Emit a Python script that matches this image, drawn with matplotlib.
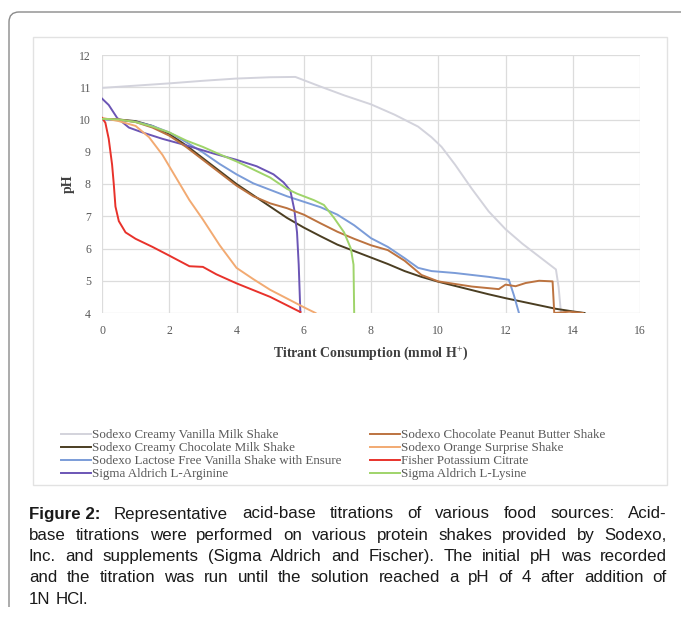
import matplotlib
matplotlib.use("Agg")
import matplotlib.pyplot as plt
from matplotlib.path import Path
from matplotlib.patches import PathPatch, Rectangle

# ---------------- data ----------------
names = ["Sodexo Creamy Vanilla Milk Shake",
         "Sodexo Creamy Chocolate Milk Shake",
         "Sodexo Lactose Free Vanilla Shake with Ensure",
         "Sigma Aldrich L-Arginine",
         "Sodexo Chocolate Peanut Butter Shake",
         "Sodexo Orange Surprise Shake",
         "Fisher Potassium Citrate",
         "Sigma Aldrich L-Lysine"]
colors = ["#d3d3dc", "#4b3e22", "#7b9cd8", "#6b55b5",
          "#bc7340", "#f2aa72", "#e8322b", "#9fd46a"]

vanilla_x = [0, 1, 2, 3, 4, 5, 5.75, 6.5, 7.2, 8.0, 8.7, 9.4, 9.8, 10.1, 10.5,
             11.0, 11.5, 12.0, 12.5, 13.0, 13.5, 13.58, 13.65]
vanilla_y = [10.98, 11.05, 11.12, 11.2, 11.27, 11.31, 11.32, 11.02, 10.75, 10.47,
             10.15, 9.78, 9.45, 9.15, 8.6, 7.85, 7.15, 6.6, 6.15, 5.75, 5.35, 4.8, 4.0]

choc_x = [0, 0.5, 1, 1.5, 2, 2.5, 3, 3.5, 4, 4.5, 5, 5.5, 6, 6.5, 7, 7.5, 8, 8.5,
          9, 9.5, 10, 10.5, 11, 11.5, 12, 12.5, 13, 13.5, 14, 14.35]
choc_y = [10.02, 10.0, 9.95, 9.8, 9.55, 9.2, 8.8, 8.4, 8.0, 7.65, 7.3, 6.95, 6.65,
          6.38, 6.12, 5.92, 5.72, 5.52, 5.3, 5.12, 4.97, 4.84, 4.71, 4.58, 4.46,
          4.35, 4.24, 4.13, 4.05, 4.0]

lact_x = [0, 0.5, 1, 1.5, 2, 2.5, 3, 3.5, 4, 4.5, 5, 5.5, 6, 6.5, 7, 7.5, 8, 8.5,
          9, 9.4, 9.8, 10.5, 11.5, 12.1, 12.25, 12.4]
lact_y = [10.0, 9.98, 9.93, 9.8, 9.6, 9.3, 8.98, 8.62, 8.3, 8.02, 7.82, 7.62, 7.45,
          7.28, 7.05, 6.72, 6.32, 6.05, 5.7, 5.4, 5.3, 5.24, 5.12, 5.03, 4.55, 4.0]

arg_x = [0, 0.2, 0.45, 0.8, 1.2, 1.8, 2.5, 3.3, 4.0, 4.6, 5.1, 5.4, 5.6, 5.72,
         5.8, 5.85, 5.88, 5.9]
arg_y = [10.65, 10.45, 10.05, 9.75, 9.6, 9.4, 9.2, 8.95, 8.75, 8.55, 8.3, 8.05,
         7.8, 7.2, 6.5, 5.5, 4.6, 4.0]

pb_x = [0, 0.5, 1, 1.5, 2, 2.5, 3, 3.5, 4, 4.5, 5, 5.5, 6, 6.5, 7, 7.5, 8, 8.5,
        9, 9.5, 10, 10.5, 11, 11.5, 11.8, 12.0, 12.3, 12.6, 13.0, 13.4, 13.45,
        13.9, 14.3]
pb_y = [10.02, 10.0, 9.92, 9.75, 9.5, 9.15, 8.75, 8.35, 7.95, 7.62, 7.4, 7.25,
        7.05, 6.78, 6.52, 6.3, 6.1, 5.95, 5.62, 5.18, 4.98, 4.9, 4.82, 4.77, 4.74,
        4.88, 4.83, 4.93, 5.0, 4.98, 4.0, 4.04, 4.0]

orange_x = [0, 0.5, 1.0, 1.4, 1.8, 2.2, 2.6, 3.0, 3.5, 4.0, 4.5, 5.0, 5.5, 6.0, 6.35]
orange_y = [10.05, 9.95, 9.8, 9.45, 8.9, 8.2, 7.5, 6.9, 6.1, 5.4, 5.05, 4.72,
            4.45, 4.18, 4.0]

fisher_x = [0, 0.1, 0.2, 0.3, 0.35, 0.4, 0.5, 0.7, 1.0, 1.5, 2.0, 2.6, 3.0, 3.4,
            4.0, 5.0, 5.9]
fisher_y = [10.05, 9.9, 9.4, 8.6, 8.0, 7.3, 6.85, 6.5, 6.3, 6.05, 5.78, 5.45,
            5.43, 5.2, 4.92, 4.5, 4.03]

lys_x = [0, 0.5, 1.0, 1.5, 2.0, 2.5, 3.0, 3.5, 4.0, 4.5, 5.0, 5.5, 5.8, 6.3, 6.6,
         6.9, 7.2, 7.4, 7.48, 7.5]
lys_y = [10.02, 10.0, 9.92, 9.78, 9.6, 9.35, 9.15, 8.92, 8.7, 8.45, 8.2, 7.85,
         7.7, 7.5, 7.35, 6.95, 6.5, 6.0, 5.5, 4.0]

series_x = [vanilla_x, choc_x, lact_x, arg_x, pb_x, orange_x, fisher_x, lys_x]
series_y = [vanilla_y, choc_y, lact_y, arg_y, pb_y, orange_y, fisher_y, lys_y]

x_ticks = [0, 2, 4, 6, 8, 10, 12, 14, 16]
y_ticks = [4, 5, 6, 7, 8, 9, 10, 11, 12]

caption_lines = [
    "Figure 2: Representative acid-base titrations of various food sources: Acid-",
    "base titrations were performed on various protein shakes provided by Sodexo,",
    "Inc. and supplements (Sigma Aldrich and Fischer). The initial pH was recorded",
    "and the titration was run until the solution reached a pH of 4 after addition of",
    "1N HCl.",
]

plt.rcParams["mathtext.fontset"] = "custom"
plt.rcParams["mathtext.rm"] = "Liberation Serif"
plt.rcParams["mathtext.bf"] = "Liberation Serif:bold"

# ---------------- figure ----------------
W, H = 681, 619
fig = plt.figure(figsize=(W / 100, H / 100), dpi=100)

ov = fig.add_axes([0, 0, 1, 1], zorder=-5)
ov.set_xlim(0, W)
ov.set_ylim(H, 0)
ov.axis("off")

r = 10
verts = [(9, 607), (9, 12 + r), (9, 12), (9 + r, 12), (700, 12)]
codes = [Path.MOVETO, Path.LINETO, Path.CURVE3, Path.CURVE3, Path.LINETO]
ov.add_patch(PathPatch(Path(verts, codes), fill=False, edgecolor="#8a8a8a", lw=1.0))
ov.add_patch(Rectangle((33, 37), 634, 448, fill=False, edgecolor="#e2e2e2", lw=1.0))

ax = fig.add_axes([102 / W, 1 - 313 / H, (640 - 102) / W, (313 - 55) / H])
serif = "Liberation Serif"
for xs, ys, c, n in zip(series_x, series_y, colors, names):
    ax.plot(xs, ys, color=c, lw=1.4, label=n, solid_joinstyle="round")

ax.set_xlim(0, 16)
ax.set_ylim(4, 12)
ax.set_xticks(x_ticks)
ax.set_yticks(y_ticks)
ax.grid(True, color="#dcdcdc", lw=0.9)
ax.set_axisbelow(True)
for s in ax.spines.values():
    s.set_visible(False)
ax.tick_params(length=0, labelsize=8.5, colors="#595959")
ax.tick_params(axis="x", pad=9)
ax.tick_params(axis="y", pad=8)
for lab in ax.get_xticklabels() + ax.get_yticklabels():
    lab.set_family(serif)

ax.set_xlabel(r"Titrant Consumption (mmol H$^{+}$)", family=serif, fontsize=10,
              fontweight="bold", color="#404040", labelpad=5)
ax.set_ylabel("pH", family=serif, fontsize=10, fontweight="bold",
              color="#404040", labelpad=3)

handles, labels = ax.get_legend_handles_labels()
leg = fig.legend(handles, labels, ncol=2, loc="upper left",
                 bbox_to_anchor=(61 / W, 1 - 429 / H), frameon=False,
                 prop={"family": serif, "size": 9.4}, labelcolor="#595959",
                 handlelength=2.3, handletextpad=0.08, columnspacing=2.2,
                 labelspacing=0.07, borderaxespad=0, borderpad=0)

# ---------------- justified caption ----------------
fig.canvas.draw()
renderer = fig.canvas.get_renderer()
cap_font = "Liberation Sans"
cap_size = 12.2
x_left, x_right = 29, 667
y0, dy = 514, 21.3

def wwidth(txt, bold=False):
    t = ov.text(0, 0, txt, family=cap_font, fontsize=cap_size,
                fontweight="bold" if bold else "normal")
    bb = t.get_window_extent(renderer)
    t.remove()
    return bb.width

for i, line in enumerate(caption_lines):
    words = line.split(" ")
    bold = [False] * len(words)
    if i == 0:
        words = ["Figure 2:"] + words[2:]
        bold = [True] + [False] * (len(words) - 1)
    widths = [wwidth(w, b) for w, b in zip(words, bold)]
    y = y0 + i * dy
    if i < len(caption_lines) - 1 and len(words) > 1:
        gap = (x_right - x_left - sum(widths)) / (len(words) - 1)
    else:
        gap = wwidth("a b") - wwidth("ab")
    x = x_left
    for w, b, wd in zip(words, bold, widths):
        ov.text(x, y, w, family=cap_font, fontsize=cap_size,
                fontweight="bold" if b else "normal", color="#1a1a1a",
                va="center", ha="left")
        x += wd + gap

fig.savefig("out.png", dpi=100)
